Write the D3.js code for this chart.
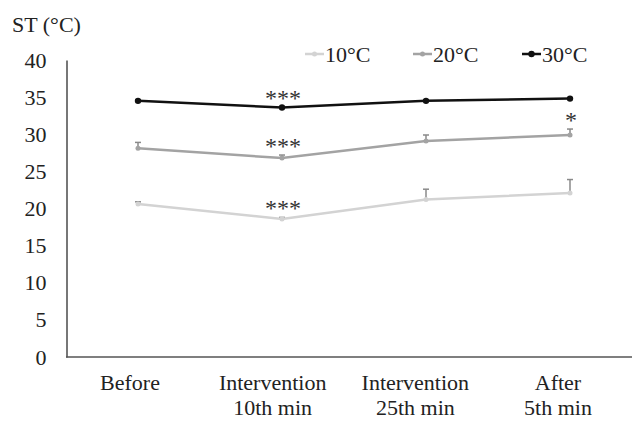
<!DOCTYPE html>
<html>
<head>
<meta charset="utf-8">
<script src="https://cdn.jsdelivr.net/npm/d3@7"></script>
<style>
  html, body { margin: 0; padding: 0; background: #fff; }
  svg text { font-family: "Liberation Serif", Tinos, "Times New Roman", Times, "DejaVu Serif", serif; fill: #222; }
</style>
</head>
<body>
<svg id="chart" width="632" height="422"></svg>
<script>
// categories and tick labels
const categories = ["Before", "Intervention\n10th min", "Intervention\n25th min", "After\n5th min"];
const yTicks = [0, 5, 10, 15, 20, 25, 30, 35, 40];

// series means and upper error bars (°C)
const t10 = [20.6, 18.6, 21.2, 22.1];
const e10 = [0.3, 0.2, 1.4, 1.8];
const t20 = [28.1, 26.8, 29.1, 29.9];
const e20 = [0.8, 0.4, 0.8, 0.8];
const t30 = [34.5, 33.6, 34.5, 34.8];
const e30 = [0.1, 0.1, 0.1, 0.1];

// significance marks: [series index, category index, label]
const marks = [[2, 1, "***"], [1, 1, "***"], [0, 1, "***"], [1, 3, "*"]];

const FONT = "'Liberation Serif', Tinos, 'Times New Roman', Times, 'DejaVu Serif', serif";

const series = [
    { name: "10\u00B0C", values: t10, err: e10, color: "#d3d3d3", errColor: "#8a8a8a", r: 2.5 },
    { name: "20\u00B0C", values: t20, err: e20, color: "#a3a3a3", errColor: "#8a8a8a", r: 2.5 },
    { name: "30\u00B0C", values: t30, err: e30, color: "#111", errColor: "#111", r: 3.2 }
];

const svg = d3.select("#chart").attr("font-family", FONT);

const x = d3.scalePoint().domain(categories).range([138, 570]);
const xLabel = d3.scalePoint().domain(categories).range([130, 558]);
const y = d3.scaleLinear().domain([0, 40]).range([357, 60]);

// axis title
svg.append("text")
    .attr("x", 12).attr("y", 32)
    .attr("font-size", 22)
    .attr("font-family", FONT)
    .text("ST (\u00B0C)");

// y axis
const yAxis = svg.append("g")
    .attr("transform", "translate(66.5,0)")
    .call(d3.axisLeft(y).tickValues(yTicks).tickSize(0).tickPadding(20));
yAxis.attr("font-family", FONT);
yAxis.select(".domain").attr("stroke", "#555").attr("stroke-width", 1.6);
yAxis.selectAll("text")
    .attr("font-size", 22)
    .attr("font-family", FONT)
    .attr("fill", "#222");

// x axis line
svg.append("line")
    .attr("x1", 66).attr("x2", 632)
    .attr("y1", y(0)).attr("y2", y(0))
    .attr("stroke", "#555").attr("stroke-width", 1.6);

// x labels, two lines
const xl = svg.append("g").selectAll("text")
    .data(categories)
    .enter().append("text")
    .attr("text-anchor", "middle")
    .attr("font-size", 22)
    .attr("font-family", FONT)
    .attr("x", d => xLabel(d))
    .attr("y", 390);
xl.selectAll("tspan")
    .data(d => d.split("\n").map(s => ({ s, c: d })))
    .enter().append("tspan")
    .attr("x", d => xLabel(d.c))
    .attr("dy", (d, i) => i === 0 ? 0 : 25)
    .text(d => d.s);

const line = d3.line()
    .x((d, i) => x(categories[i]))
    .y(d => y(d));

series.forEach(s => {
    const g = svg.append("g");
    // error bars (upper only)
    s.values.forEach((v, i) => {
        const cx = x(categories[i]);
        const top = y(v + s.err[i]);
        g.append("line")
            .attr("x1", cx).attr("x2", cx)
            .attr("y1", y(v)).attr("y2", top)
            .attr("stroke", s.errColor).attr("stroke-width", 1.5);
        g.append("line")
            .attr("x1", cx - 3).attr("x2", cx + 3)
            .attr("y1", top).attr("y2", top)
            .attr("stroke", s.errColor).attr("stroke-width", 1.5);
    });
    g.append("path")
        .datum(s.values)
        .attr("fill", "none")
        .attr("stroke", s.color)
        .attr("stroke-width", 2.5)
        .attr("d", line);
    g.selectAll("circle")
        .data(s.values)
        .enter().append("circle")
        .attr("cx", (d, i) => x(categories[i]))
        .attr("cy", d => y(d))
        .attr("r", s.r)
        .attr("fill", s.color);
});

// significance asterisks
marks.forEach(([si, ci, label]) => {
    const s = series[si];
    const cy = y(s.values[ci] + s.err[ci]) - 12;
    svg.append("text")
        .attr("x", x(categories[ci]) + 1)
        .attr("y", cy + 11)
        .attr("text-anchor", "middle")
        .attr("font-size", 24)
        .attr("font-family", FONT)
        .style("fill", "#333")
        .text(label);
});

// legend
const legendX = [305, 413, 522];
series.forEach((s, i) => {
    const lg = svg.append("g").attr("transform", `translate(${legendX[i]},54)`);
    lg.append("line")
        .attr("x1", 0).attr("x2", 19)
        .attr("stroke", s.color).attr("stroke-width", 2.5);
    lg.append("circle")
        .attr("cx", 9.5).attr("r", s.r)
        .attr("fill", s.color);
    lg.append("text")
        .attr("x", 20).attr("y", 8)
        .attr("font-size", 22)
        .attr("font-family", FONT)
        .text(s.name);
});
</script>
</body>
</html>
